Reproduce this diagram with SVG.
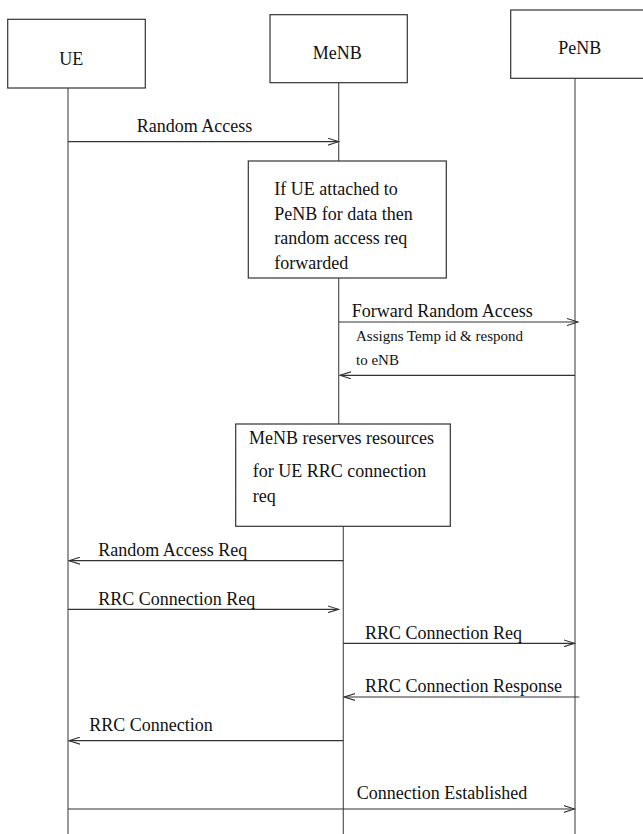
<svg xmlns="http://www.w3.org/2000/svg" width="643" height="834" viewBox="0 0 643 834">
<style>
  .box { fill: #ffffff; stroke: #333333; stroke-width: 1.2; }
  .life { stroke: #555555; stroke-width: 1.2; fill: none; }
  .msg { stroke: #333333; stroke-width: 1.2; fill: none; }
  .t { font-family: "Liberation Serif", "Times New Roman", serif; font-size: 18px; fill: #111111; }
  .ts { font-family: "Liberation Serif", "Times New Roman", serif; font-size: 15px; fill: #111111; }
</style>
<defs>
  <marker id="open" viewBox="0 0 12 8" refX="11" refY="4" markerWidth="12" markerHeight="8" markerUnits="userSpaceOnUse" orient="auto">
    <path d="M0,0.5 L11,4 L0,7.5" fill="none" stroke="#333333" stroke-width="1.1"/>
  </marker>
</defs>
<rect x="0" y="0" width="643" height="834" fill="#ffffff"/>

<g id="connectors">
  <g id="lifelines">
    <line class="life" x1="68" y1="88" x2="68" y2="834"/>
    <line class="life" x1="338.7" y1="82.7" x2="338.7" y2="161"/>
    <line class="life" x1="338.7" y1="278" x2="338.7" y2="424"/>
    <line class="life" x1="343.3" y1="526.3" x2="343.3" y2="834"/>
    <line class="life" x1="575" y1="78.3" x2="575" y2="834"/>
  </g>
  <g id="m1">
    <line class="msg" x1="68" y1="141.7" x2="338.7" y2="141.7" marker-end="url(#open)"/>
    <text class="t" x="136.7" y="131.7">Random Access</text>
  </g>
  <g id="m2">
    <line class="msg" x1="338.7" y1="322" x2="578" y2="322" marker-end="url(#open)"/>
    <text class="t" x="351.7" y="316.7">Forward Random Access</text>
  </g>
  <g id="m3">
    <line class="msg" x1="575" y1="375.3" x2="340" y2="375.3" marker-end="url(#open)"/>
    <text class="ts" x="356" y="340.7">Assigns Temp id &amp; respond</text>
    <text class="ts" x="356" y="365">to eNB</text>
  </g>
  <g id="m4">
    <line class="msg" x1="343.3" y1="560.7" x2="69" y2="560.7" marker-end="url(#open)"/>
    <text class="t" x="98.3" y="555.7">Random Access Req</text>
  </g>
  <g id="m5">
    <line class="msg" x1="68" y1="609.3" x2="338.5" y2="609.3" marker-end="url(#open)"/>
    <text class="t" x="98.3" y="605">RRC Connection Req</text>
  </g>
  <g id="m6">
    <line class="msg" x1="343.3" y1="643.3" x2="574.5" y2="643.3" marker-end="url(#open)"/>
    <text class="t" x="365" y="639.3">RRC Connection Req</text>
  </g>
  <g id="m7">
    <line class="msg" x1="579.3" y1="697" x2="344.3" y2="697" marker-end="url(#open)"/>
    <text class="t" x="365" y="691.7">RRC Connection Response</text>
  </g>
  <g id="m8">
    <line class="msg" x1="343.3" y1="740.7" x2="69" y2="740.7" marker-end="url(#open)"/>
    <text class="t" x="89.3" y="730.7">RRC Connection</text>
  </g>
  <g id="m9">
    <line class="msg" x1="68" y1="809" x2="574.5" y2="809" marker-end="url(#open)"/>
    <text class="t" x="356.7" y="799">Connection Established</text>
  </g>
</g>

<g id="UE">
  <rect class="box" x="7.7" y="19.3" width="137.6" height="68.7"/>
  <text class="t" x="59.3" y="65">UE</text>
</g>
<g id="MeNB">
  <rect class="box" x="270" y="14.7" width="137.3" height="68"/>
  <text class="t" x="312.7" y="59.3">MeNB</text>
</g>
<g id="PeNB">
  <rect class="box" x="510.7" y="10" width="137" height="68.3"/>
  <text class="t" x="558.3" y="54">PeNB</text>
</g>
<g id="note-forward">
  <rect class="box" x="248.3" y="161" width="198" height="117"/>
  <text class="t" x="274.3" y="195">If UE attached to</text>
  <text class="t" x="274.3" y="219.5">PeNB for data then</text>
  <text class="t" x="274.3" y="244">random access req</text>
  <text class="t" x="274.3" y="268.5">forwarded</text>
</g>
<g id="note-reserve">
  <rect class="box" x="235.7" y="424" width="214.6" height="102.3"/>
  <text class="t" x="249" y="444">MeNB reserves resources</text>
  <text class="t" x="252.7" y="477.3">for UE RRC connection</text>
  <text class="t" x="252.7" y="501.7">req</text>
</g>
</svg>
